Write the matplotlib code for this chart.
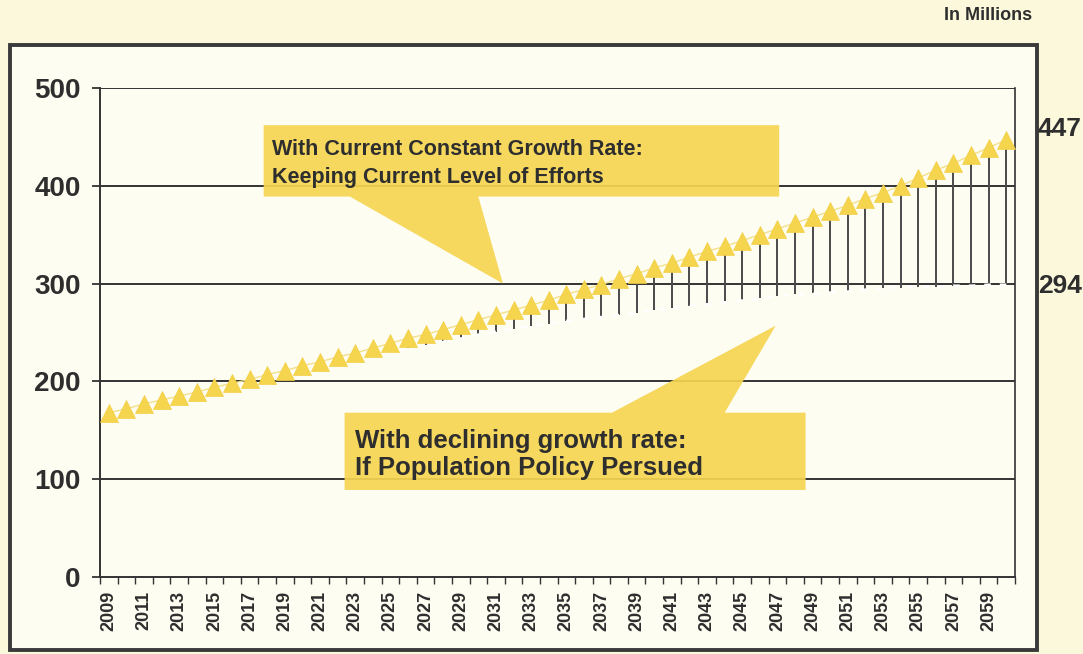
import matplotlib
matplotlib.use("Agg")
import matplotlib.pyplot as plt
from matplotlib.patches import Polygon, Rectangle

# --- data ----------------------------------------------------------------------
years = list(range(2009, 2061))
constant_growth = [168, 172, 177, 181, 185, 189, 194, 198, 202, 207,
                   211, 216, 220, 225, 229, 234, 239, 244, 248, 253,
                   258, 263, 268, 273, 278, 283, 289, 294, 299, 305,
                   310, 316, 321, 327, 333, 338, 344, 350, 356, 362,
                   368, 374, 380, 387, 393, 400, 408, 416, 423, 431,
                   439, 447]
declining_growth = [168, 172, 176, 180, 184, 188, 192, 196, 199, 203,
                    207, 211, 215, 219, 222, 226, 230, 234, 237, 241,
                    244, 248, 251, 254, 257, 259, 262, 264, 266, 268,
                    270, 273, 275, 277, 279, 281, 283, 285, 287, 289,
                    290, 291, 292, 294, 295, 296, 297, 297, 298, 298,
                    299, 299]
end_labels = ["447", "294"]
y_ticks = [0, 100, 200, 300, 400, 500]
callout_top = "With Current Constant Growth Rate:\nKeeping Current Level of Efforts"
callout_bottom = "With declining growth rate:\nIf Population Policy Persued"

FONT = ["Liberation Sans", "DejaVu Sans"]
DARK = "#2e2e2e"
YELLOW = "#f6d54e"
BOX = "#f6d552"

W, H = 1083, 654
fig = plt.figure(figsize=(W / 100, H / 100), dpi=100)
fig.patch.set_facecolor("#fbf8dc")
plt.rcParams["font.family"] = FONT


def fx(px):
    return px / W


def fy(py):
    return 1 - py / H


# outer frame, kept behind the axes
fig.patches.append(Rectangle((fx(10), fy(650)), fx(1037) - fx(10), fy(45) - fy(650),
                             transform=fig.transFigure, facecolor="#fefdf2",
                             edgecolor="#3a3a3a", lw=2.8, zorder=-5))

ax = fig.add_axes([fx(100), fy(577), fx(1015) - fx(100), fy(88) - fy(577)])
ax.set_facecolor("none")
x = list(range(len(years)))

# grid lines
for v in y_ticks[1:]:
    ax.axhline(v, color="#333333", lw=1.4, zorder=1)

# high-low lines between the two scenarios
ax.vlines(x, declining_growth, constant_growth, color="#4a4a4a", lw=1.4, zorder=2)
ax.plot(x, declining_growth, color="#ffffff", lw=1.6, ls=(0, (3, 4)), zorder=3)
ax.plot(x, constant_growth, color="#f3e08a", lw=1.0, zorder=3)
ax.plot(x, constant_growth, ls="none", marker="^", ms=13.5, color=YELLOW,
        markeredgecolor="#f2cf45", markeredgewidth=0.5, zorder=4)

ax.set_xlim(-0.5, len(years) - 0.5)
ax.set_ylim(0, 500)
ax.set_yticks(y_ticks)
ax.set_yticklabels([str(v) for v in y_ticks], fontsize=20, fontweight="bold", color=DARK)
ax.tick_params(axis="y", length=6, width=1.3, color="#333333", pad=8)

ax.set_xticks(x[::2])
ax.set_xticklabels([str(y) for y in years[::2]], rotation=90, fontsize=13,
                   fontweight="bold", color=DARK)
ax.set_xticks([i - 0.5 for i in x] + [len(x) - 0.5], minor=True)
ax.tick_params(axis="x", which="major", length=0, pad=10)
ax.tick_params(axis="x", which="minor", length=5, width=1.0, color="#333333")

for side in ["left", "bottom"]:
    ax.spines[side].set_color("#333333")
    ax.spines[side].set_linewidth(1.4)
ax.spines["right"].set_color("#333333")
ax.spines["right"].set_linewidth(1.2)
ax.spines["top"].set_visible(False)

# callouts (in data coordinates)
top_shape = [(8.8, 462), (38.1, 462), (38.1, 389), (21.0, 389), (22.4, 300),
             (13.7, 389), (8.8, 389)]
ax.add_patch(Polygon(top_shape, closed=True, facecolor=BOX, edgecolor="none",
                     alpha=0.92, zorder=5, clip_on=False))
ax.text(9.3, 423, callout_top, fontsize=15.5, fontweight="bold", color=DARK,
        va="center", ha="left", linespacing=1.45, zorder=6)

bottom_shape = [(13.4, 168), (28.6, 168), (37.9, 257), (35.0, 168), (39.6, 168),
                (39.6, 89), (13.4, 89)]
ax.add_patch(Polygon(bottom_shape, closed=True, facecolor=BOX, edgecolor="none",
                     alpha=0.92, zorder=5, clip_on=False))
ax.text(14.0, 125, callout_bottom, fontsize=18.5, fontweight="bold", color=DARK,
        va="center", ha="left", linespacing=1.15, zorder=6)

# end values outside the frame
fig.text(fx(1038), fy(129), end_labels[0], fontsize=19, fontweight="bold",
         color=DARK, va="center", ha="left")
fig.text(fx(1038), fy(286), end_labels[1], fontsize=19, fontweight="bold",
         color=DARK, va="center", ha="left")
fig.text(fx(1032), fy(16), "In Millions", fontsize=13, fontweight="bold",
         color=DARK, va="center", ha="right")

fig.savefig("out.png", dpi=100, facecolor=fig.get_facecolor())
